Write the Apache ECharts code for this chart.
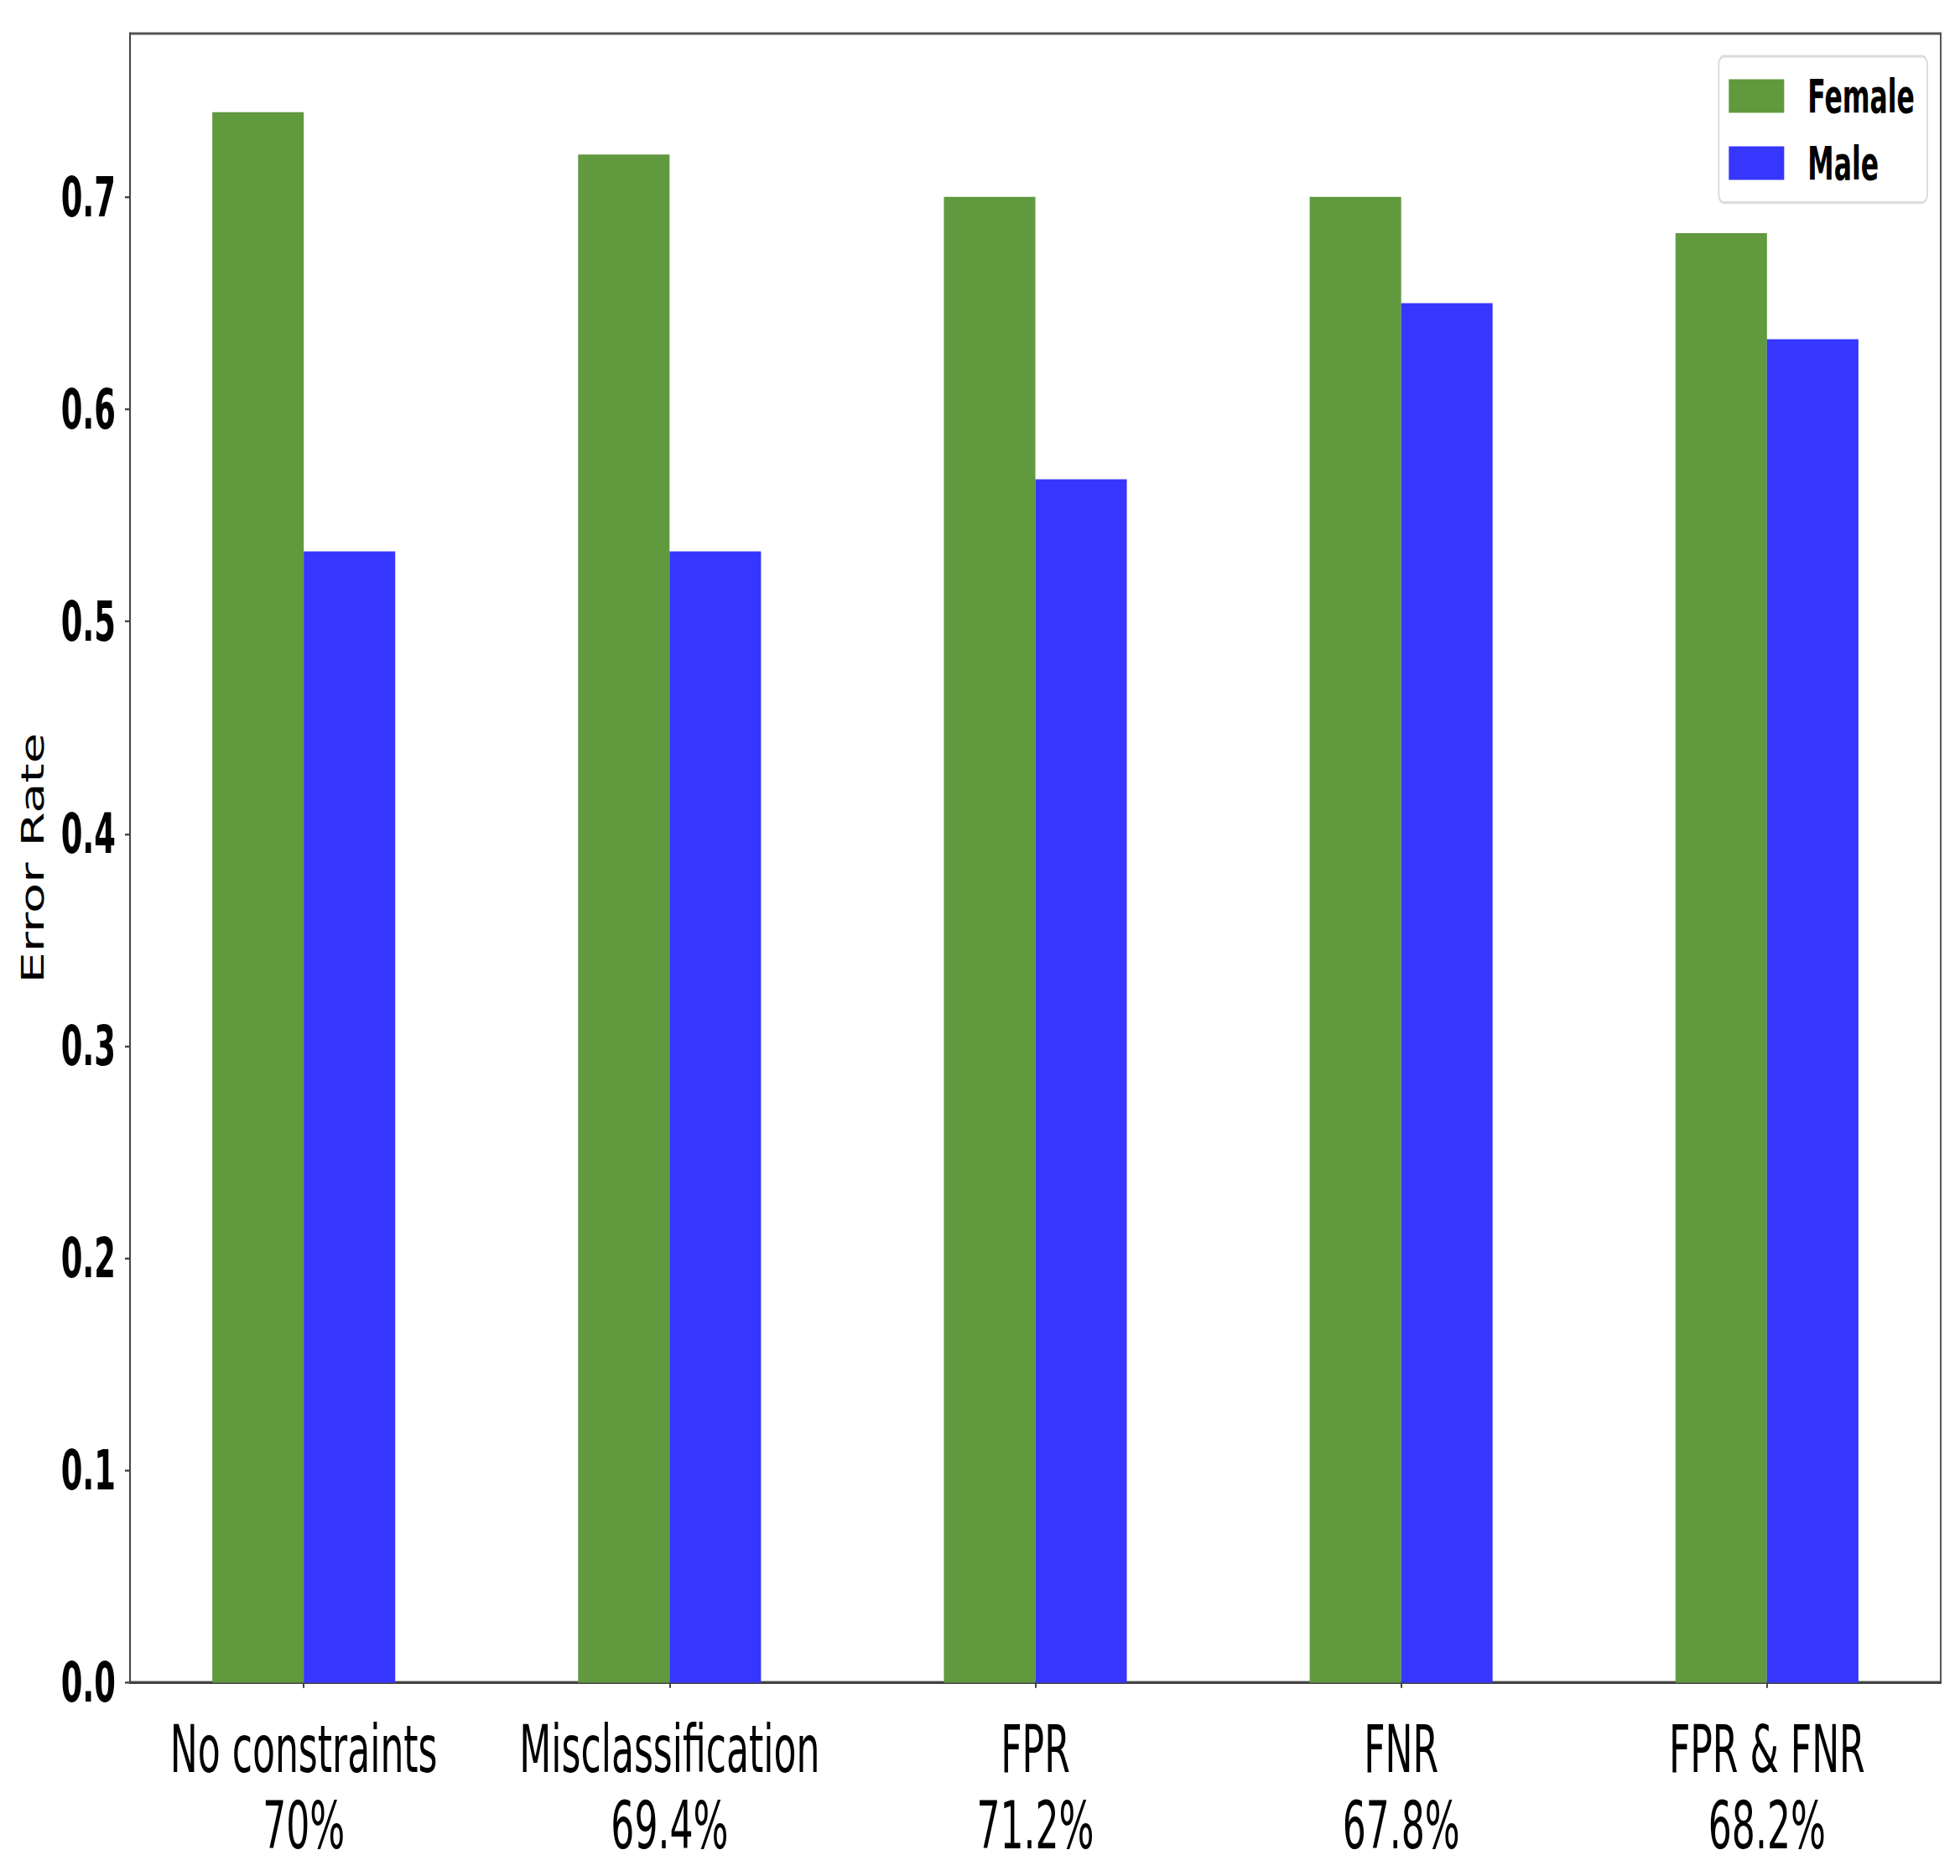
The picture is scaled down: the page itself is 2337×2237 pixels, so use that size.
<!DOCTYPE html>
<html>
<head>
<meta charset="utf-8">
<script src="https://cdn.jsdelivr.net/npm/echarts@6/dist/echarts.min.js"></script>
<style>
html,body{margin:0;padding:0;background:#fff;width:2337px;height:2237px;overflow:hidden;}
/* the reference figure is stretched vertically; the chart is drawn at 1/1.6 height and stretched */
#chart{width:2337px;height:1398px;transform:scaleY(1.6);transform-origin:0 0;}
</style>
</head>
<body>
<div id="chart"></div>
<script>
const categories = ['No constraints', 'Misclassification', 'FPR', 'FNR', 'FPR & FNR'];
const accuracyLabels = ['70%', '69.4%', '71.2%', '67.8%', '68.2%'];
const female = [0.740, 0.720, 0.700, 0.700, 0.683];
const male = [0.533, 0.533, 0.567, 0.650, 0.633];
const yTicks = [0.0, 0.1, 0.2, 0.3, 0.4, 0.5, 0.6, 0.7];

const positions = categories.map(function (c, i) { return i; });
const cond = "'DejaVu Sans Condensed', 'DejaVu Sans', sans-serif";

const chart = echarts.init(document.getElementById('chart'), null, {renderer: 'svg'});
chart.setOption({
  backgroundColor: '#ffffff',
  animation: false,
  grid: {
    left: 155, right: 23, top: 25, bottom: 144,
    show: true, borderColor: '#555555', borderWidth: 2, backgroundColor: 'transparent'
  },
  legend: {
    data: ['Female', 'Male'],
    orient: 'vertical',
    right: 39, top: 42,
    itemWidth: 66, itemHeight: 25, itemGap: 15,
    padding: [12, 15, 12, 12],
    borderColor: '#dddddd', borderWidth: 2, borderRadius: 6,
    backgroundColor: '#ffffff',
    icon: 'rect',
    textStyle: {fontFamily: cond, fontWeight: 'bold', fontSize: 35, color: '#000', padding: [0, 0, 0, 23]}
  },
  xAxis: {
    type: 'value',
    min: -0.475, max: 4.475,
    axisLine: {show: true, onZero: false, lineStyle: {color: '#444', width: 2}},
    axisTick: {show: true, customValues: positions, length: 4, lineStyle: {color: '#444', width: 2}},
    axisLabel: {
      customValues: positions, margin: 21,
      fontFamily: cond, fontSize: 49, lineHeight: 57, color: '#000',
      formatter: function (v) {
        const i = Math.round(v);
        return categories[i] + '\n' + accuracyLabels[i];
      }
    },
    splitLine: {show: false}
  },
  yAxis: {
    type: 'value',
    min: 0, max: 0.777, interval: 0.1,
    name: 'Error Rate', nameLocation: 'middle', nameGap: 97, nameRotate: 90,
    nameTextStyle: {fontFamily: "'DejaVu Sans', sans-serif", fontSize: 37, color: '#000'},
    axisLine: {show: true, onZero: false, lineStyle: {color: '#444', width: 2}},
    axisTick: {show: true, length: 6, lineStyle: {color: '#444', width: 1.5}},
    axisLabel: {
      margin: 17, showMaxLabel: false,
      fontFamily: cond, fontWeight: 'bold', fontSize: 41, color: '#000',
      formatter: function (v) {
        const t = yTicks.find(function (y) { return Math.abs(y - v) < 1e-6; });
        return t === undefined ? '' : t.toFixed(1);
      }
    },
    splitLine: {show: false}
  },
  series: [
    {name: 'Female', type: 'bar', data: female.map(function (v, i) { return [positions[i], v]; }),
     barWidth: '25%', barGap: '0%', itemStyle: {color: '#61993f'}},
    {name: 'Male', type: 'bar', data: male.map(function (v, i) { return [positions[i], v]; }),
     barWidth: '25%', barGap: '0%', itemStyle: {color: '#3636fe'}}
  ]
});
</script>
</body>
</html>
